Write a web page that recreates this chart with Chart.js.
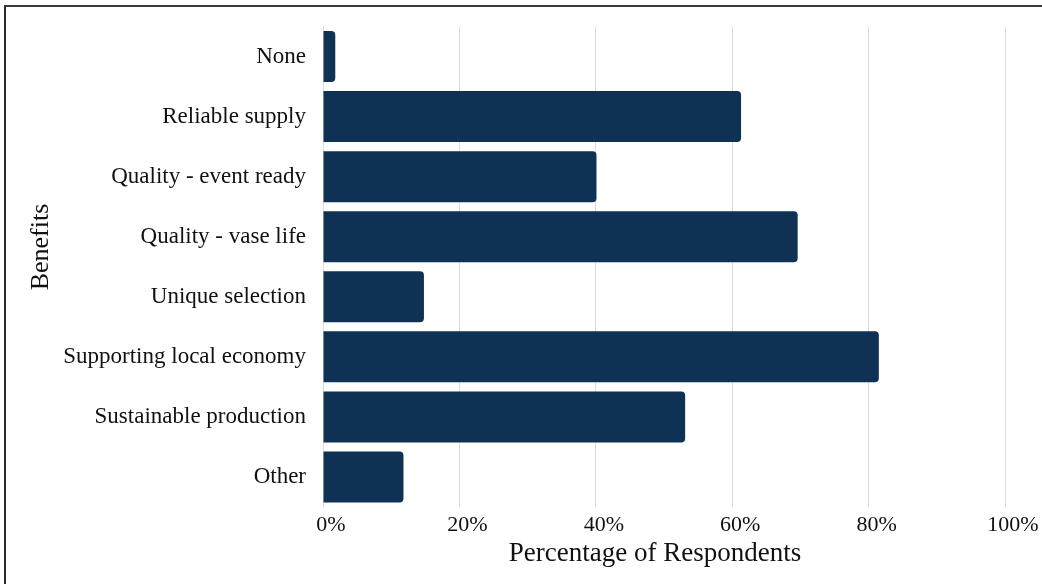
<!DOCTYPE html>
<html>
<head>
<meta charset="utf-8">
<script src="https://cdn.jsdelivr.net/npm/chart.js@4.4.1/dist/chart.umd.min.js"></script>
<style>
  html, body { margin: 0; padding: 0; background: #fff; overflow: hidden; }
  #wrap { position: absolute; left: 0; top: 0; width: 1042px; height: 584px; }
  #frame { position: absolute; left: 4px; top: 5px; width: 1100px; height: 700px;
           border-left: 2px solid #2a2a2a; border-top: 2px solid #3a3a3a; pointer-events: none; }
</style>
</head>
<body>
<div id="wrap"><canvas id="c" width="1042" height="584"></canvas></div>
<div id="frame"></div>
<script>
const categories = ["None", "Reliable supply", "Quality - event ready", "Quality - vase life",
  "Unique selection", "Supporting local economy", "Sustainable production", "Other"];
const percentages = [1.8, 61.3, 40.1, 69.6, 14.8, 81.5, 53.1, 11.8];
const xTicks = [0, 20, 40, 60, 80, 100];
const yTitle = 'Benefits';
const xTitle = 'Percentage of Respondents';

const FONT = "'Liberation Serif', 'Times New Roman', serif";

const axisTitlePlugin = {
  id: 'axisTitles',
  afterDraw(chart) {
    const ctx = chart.ctx;
    const area = chart.chartArea;
    ctx.save();
    ctx.fillStyle = '#111';
    ctx.textAlign = 'center';
    // y-axis title
    ctx.save();
    ctx.translate(41, 247);
    ctx.rotate(-Math.PI / 2);
    ctx.font = '26px ' + FONT;
    ctx.textBaseline = 'middle';
    ctx.fillText(yTitle, 0, 0);
    ctx.restore();
    // x-axis title
    ctx.font = '27px ' + FONT;
    ctx.textBaseline = 'alphabetic';
    ctx.fillText(xTitle, (area.left + area.right) / 2 - 9, 561);
    ctx.restore();
  }
};

new Chart(document.getElementById('c'), {
  type: 'bar',
  data: {
    labels: categories,
    datasets: [{
      data: percentages,
      backgroundColor: '#0f3153',
      borderRadius: 4,
      borderSkipped: 'start',
      barPercentage: 0.85,
      categoryPercentage: 1.0
    }]
  },
  plugins: [axisTitlePlugin],
  options: {
    indexAxis: 'y',
    responsive: false,
    animation: false,
    layout: { padding: { left: 6, top: 26.5, right: 37, bottom: 4 } },
    plugins: { legend: { display: false }, tooltip: { enabled: false } },
    scales: {
      x: {
        min: 0, max: 100,
        afterBuildTicks: (s) => { s.ticks = xTicks.map(v => ({ value: v })); },
        ticks: {
          callback: (v) => v + '%',
          color: '#111',
          font: { family: FONT, size: 22 },
          padding: 5,
          labelOffset: 8,
          maxRotation: 0
        },
        grid: { color: '#dcdcdc', lineWidth: 1, drawTicks: false },
        border: { display: false },
        title: { display: false },
        afterFit: (s) => { s.height = 73; }
      },
      y: {
        ticks: {
          color: '#111',
          font: { family: FONT, size: 23 },
          padding: 17
        },
        grid: { display: false, drawTicks: false },
        border: { display: false },
        title: { display: false },
        afterFit: (s) => { s.width = 317; s.paddingTop = 0; s.paddingBottom = 0; }
      }
    }
  }
});
</script>
</body>
</html>
